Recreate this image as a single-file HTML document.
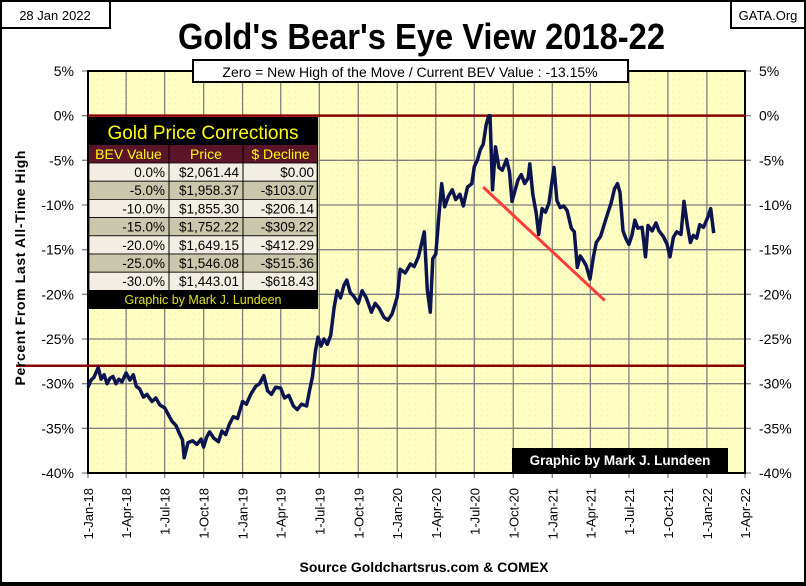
<!DOCTYPE html>
<html><head><meta charset="utf-8">
<style>
html,body{margin:0;padding:0;background:#fff;}
body{width:806px;height:586px;overflow:hidden;position:relative;font-family:"Liberation Sans",sans-serif;}
svg{position:absolute;left:0;top:0;}
</style></head>
<body>
<svg id="chart" width="806" height="586" viewBox="0 0 806 586">
<defs>
<pattern id="dots" width="6" height="6" patternUnits="userSpaceOnUse"><rect width="6" height="6" fill="#ffffc4"/><rect x="1" y="1" width="1" height="1" fill="#eeeaa0"/></pattern>
</defs>
<rect x="1" y="1" width="804" height="583" fill="#fff" stroke="#000" stroke-width="2"/>
<rect x="0" y="582" width="806" height="4" fill="#000"/>
<rect x="1" y="1" width="109" height="27" fill="#fff" stroke="#000" stroke-width="2"/>
<text x="55" y="20" font-size="13" text-anchor="middle" font-family="Liberation Sans">28 Jan 2022</text>
<rect x="731" y="1" width="74" height="27" fill="#fff" stroke="#000" stroke-width="2"/>
<text x="768" y="20" font-size="13" text-anchor="middle">GATA.Org</text>
<text x="178" y="49" font-size="36" font-weight="bold" textLength="487" lengthAdjust="spacingAndGlyphs">Gold's Bear's Eye View 2018-22</text>
<g id="plot"></g>
<rect x="193" y="60" width="435" height="22" fill="#fff" stroke="#000" stroke-width="2"/>
<text x="410" y="77" font-size="14" text-anchor="middle">Zero = New High of the Move / Current  BEV Value : -13.15%</text>
<text transform="translate(25,268) rotate(-90)" font-size="14" font-weight="bold" text-anchor="middle" textLength="235" lengthAdjust="spacing">Percent  From Last  All-Time  High</text>
<text x="424" y="572" font-size="14" font-weight="bold" text-anchor="middle">Source Goldchartsrus.com &amp; COMEX</text>
</svg>
<script>
const yTicks=[5,0,-5,-10,-15,-20,-25,-30,-35,-40];
const xTickLabels=["1-Jan-18","1-Apr-18","1-Jul-18","1-Oct-18","1-Jan-19","1-Apr-19","1-Jul-19","1-Oct-19","1-Jan-20","1-Apr-20","1-Jul-20","1-Oct-20","1-Jan-21","1-Apr-21","1-Jul-21","1-Oct-21","1-Jan-22","1-Apr-22"];
const xTickDates=["2018-01-01","2018-04-01","2018-07-01","2018-10-01","2019-01-01","2019-04-01","2019-07-01","2019-10-01","2020-01-01","2020-04-01","2020-07-01","2020-10-01","2021-01-01","2021-04-01","2021-07-01","2021-10-01","2022-01-01","2022-04-01"];
const dates=["2018-01-01","2018-01-08","2018-01-15","2018-01-25","2018-02-01","2018-02-08","2018-02-15","2018-02-22","2018-03-01","2018-03-08","2018-03-15","2018-03-22","2018-04-01","2018-04-10","2018-04-18","2018-04-25","2018-05-03","2018-05-12","2018-05-20","2018-06-01","2018-06-10","2018-06-20","2018-07-01","2018-07-10","2018-07-18","2018-07-28","2018-08-05","2018-08-12","2018-08-16","2018-08-25","2018-09-05","2018-09-15","2018-09-25","2018-10-01","2018-10-08","2018-10-15","2018-10-25","2018-11-05","2018-11-13","2018-11-22","2018-12-01","2018-12-10","2018-12-20","2019-01-01","2019-01-10","2019-01-20","2019-02-01","2019-02-10","2019-02-20","2019-03-01","2019-03-10","2019-03-20","2019-04-01","2019-04-10","2019-04-20","2019-05-01","2019-05-10","2019-05-20","2019-06-01","2019-06-08","2019-06-15","2019-06-22","2019-06-28","2019-07-05","2019-07-12","2019-07-20","2019-07-28","2019-08-05","2019-08-12","2019-08-20","2019-08-28","2019-09-04","2019-09-12","2019-09-20","2019-10-01","2019-10-10","2019-10-20","2019-11-01","2019-11-10","2019-11-20","2019-12-01","2019-12-10","2019-12-20","2020-01-01","2020-01-08","2020-01-20","2020-02-01","2020-02-10","2020-02-20","2020-02-27","2020-03-05","2020-03-12","2020-03-19","2020-03-25","2020-04-01","2020-04-08","2020-04-15","2020-04-22","2020-05-01","2020-05-10","2020-05-18","2020-05-28","2020-06-05","2020-06-15","2020-06-25","2020-07-01","2020-07-08","2020-07-15","2020-07-22","2020-07-29","2020-08-04","2020-08-07","2020-08-11","2020-08-13","2020-08-20","2020-08-28","2020-09-05","2020-09-15","2020-09-22","2020-09-28","2020-10-05","2020-10-12","2020-10-20","2020-10-28","2020-11-05","2020-11-09","2020-11-16","2020-11-24","2020-11-30","2020-12-08","2020-12-16","2020-12-24","2021-01-05","2021-01-12","2021-01-20","2021-01-28","2021-02-05","2021-02-15","2021-02-22","2021-03-01","2021-03-08","2021-03-15","2021-03-22","2021-03-31","2021-04-08","2021-04-15","2021-04-25","2021-05-03","2021-05-12","2021-05-20","2021-05-28","2021-06-04","2021-06-10","2021-06-17","2021-06-24","2021-07-01","2021-07-08","2021-07-15","2021-07-22","2021-08-01","2021-08-09","2021-08-15","2021-08-25","2021-09-03","2021-09-10","2021-09-20","2021-09-29","2021-10-06","2021-10-14","2021-10-22","2021-11-01","2021-11-08","2021-11-16","2021-11-23","2021-11-30","2021-12-08","2021-12-15","2021-12-24","2022-01-03","2022-01-10","2022-01-17","2022-01-24","2022-01-28"];
const bev=[-30.4,-29.6,-29.3,-28.2,-29.5,-29.0,-30.0,-29.4,-29.2,-30.0,-29.5,-29.8,-28.8,-29.6,-29.0,-30.3,-30.6,-31.5,-31.2,-32.0,-31.6,-32.4,-32.7,-33.5,-34.2,-34.7,-35.6,-36.3,-38.3,-36.6,-36.4,-36.8,-36.2,-37.1,-36.0,-35.4,-36.1,-36.5,-35.3,-35.7,-34.5,-33.7,-33.9,-32.0,-32.3,-31.2,-30.3,-30.0,-29.1,-30.8,-31.2,-30.4,-30.5,-31.6,-31.3,-32.5,-32.9,-32.3,-32.5,-30.8,-29.2,-26.3,-24.8,-25.8,-25.0,-25.6,-24.6,-21.5,-19.6,-20.4,-19.0,-18.4,-19.8,-20.2,-21.0,-19.6,-20.4,-22.0,-21.0,-21.6,-22.6,-22.9,-22.2,-20.3,-17.2,-17.6,-16.6,-16.9,-15.8,-14.4,-13.0,-19.5,-22.0,-16.0,-15.5,-11.5,-7.6,-10.2,-9.0,-8.3,-9.4,-8.8,-10.1,-8.0,-7.6,-5.7,-5.0,-3.8,-3.2,-1.0,0,0,-5.5,-8.3,-3.5,-5.8,-6.1,-4.9,-6.3,-9.6,-8.4,-7.2,-6.6,-7.6,-7.0,-5.4,-8.8,-10.9,-13.3,-10.4,-10.8,-9.8,-5.8,-9.5,-10.3,-10.1,-10.6,-12.6,-13.0,-17.0,-15.7,-16.2,-16.8,-18.3,-15.8,-14.2,-13.5,-12.3,-10.9,-9.8,-8.2,-7.6,-8.6,-12.9,-13.8,-14.4,-13.4,-11.7,-12.6,-12.5,-15.8,-12.3,-12.9,-12.0,-12.9,-13.5,-14.4,-15.8,-13.6,-13.0,-13.3,-9.6,-12.3,-14.2,-13.4,-13.7,-12.2,-12.5,-11.4,-10.4,-13.15];
const trendDates=["2020-07-22","2021-05-05"];
const trendVals=[-8.0,-20.7];
const tblRows=[["0.0%","$2,061.44","$0.00"],["-5.0%","$1,958.37","-$103.07"],["-10.0%","$1,855.30","-$206.14"],["-15.0%","$1,752.22","-$309.22"],["-20.0%","$1,649.15","-$412.29"],["-25.0%","$1,546.08","-$515.36"],["-30.0%","$1,443.01","-$618.43"]];

const NS="http://www.w3.org/2000/svg";
const L=88,R=745,T=71,B=473;
const t0=Date.parse("2018-01-01"),t1=Date.parse("2022-04-01");
const xS=d=>L+(Date.parse(d)-t0)/(t1-t0)*(R-L);
const yS=v=>T+(5-v)/45*(B-T);
const g=document.getElementById('plot');
function mk(tag,attrs,parent){const e=document.createElementNS(NS,tag);for(const k in attrs)e.setAttribute(k,attrs[k]);(parent||g).appendChild(e);return e;}

let e=mk('rect',{x:L,y:T,width:R-L,height:B-T,fill:'url(#dots)'});


yTicks.forEach(v=>{
  let ln=mk('line',{x1:L-6,x2:R+6,y1:yS(v),y2:yS(v),stroke:'#808080','stroke-width':1.3});
  
  
  let t1e=mk('text',{x:L-14,y:yS(v)+5,'font-size':14,'text-anchor':'end'});t1e.textContent=v+'%';
  
  
  let t2=mk('text',{x:R+14,y:yS(v)+5,'font-size':14});t2.textContent=v+'%';
  
  
});
xTickDates.forEach((d,i)=>{
  const x=xS(d);
  let ln=mk('line',{x1:x,x2:x,y1:T,y2:B+5,stroke:'#808080','stroke-width':1.3});
  
  
  let t=mk('text',{transform:`translate(${x+5},${B+15}) rotate(-90)`,'font-size':13,'text-anchor':'end'});t.textContent=xTickLabels[i];
  
  
});
e=mk('rect',{x:L,y:T,width:R-L,height:B-T,fill:'none',stroke:'#000','stroke-width':2});


e=mk('line',{x1:L,x2:R,y1:yS(0),y2:yS(0),stroke:'#8b0000','stroke-width':2.5});


e=mk('line',{x1:L-72,x2:R,y1:yS(-28),y2:yS(-28),stroke:'#8b0000','stroke-width':2.5});


e=mk('polyline',{points:dates.map((d,i)=>xS(d).toFixed(1)+','+yS(bev[i]).toFixed(1)).join(' '),fill:'none',stroke:'#0c1450','stroke-width':3.5,'stroke-linejoin':'round'});


e=mk('line',{x1:xS(trendDates[0]),y1:yS(trendVals[0]),x2:xS(trendDates[1]),y2:yS(trendVals[1]),stroke:'#ff3c3c','stroke-width':3});



const tb=mk('g',{});


const tx=[88,169,243,318];
e=mk('rect',{x:88,y:117,width:230,height:192,fill:'#000'},tb);


e=mk('text',{x:203,y:139,'font-size':19,fill:'#ffff00','text-anchor':'middle'},tb);e.textContent='Gold Price Corrections';


e=mk('rect',{x:89,y:145,width:228,height:18,fill:'#5c1428'},tb);


["BEV Value","Price","$ Decline"].forEach((h,i)=>{
  let t=mk('text',{x:(tx[i]+tx[i+1])/2,y:159,'font-size':14,fill:'#ffff00','text-anchor':'middle'},tb);t.textContent=h;
  
  
});
tblRows.forEach((r,j)=>{
  const y=163+j*18.2;
  let bg=mk('rect',{x:89,y:y,width:228,height:18.2,fill:j%2?'#cbc7ac':'#f2eee4',stroke:'#000','stroke-width':0.8},tb);
  
  
  r.forEach((c,i)=>{
    let t=mk('text',{x:tx[i+1]-4,y:y+14,'font-size':13.5,'text-anchor':'end'},tb);t.textContent=c;
    
    
  });
});
[169,243].forEach(x=>{let l=mk('line',{x1:x,x2:x,y1:145,y2:290,stroke:'#000','stroke-width':1},tb);
  
  });
e=mk('text',{x:203,y:304,'font-size':12.5,fill:'#e0e020','text-anchor':'middle'},tb);e.textContent='Graphic by Mark J. Lundeen';



e=mk('rect',{x:512,y:448,width:216,height:24,fill:'#000'});


e=mk('text',{x:620,y:465,'font-size':13.5,'font-weight':'bold',fill:'#fff','text-anchor':'middle'});e.textContent='Graphic by Mark J. Lundeen';


</script>
</body></html>
